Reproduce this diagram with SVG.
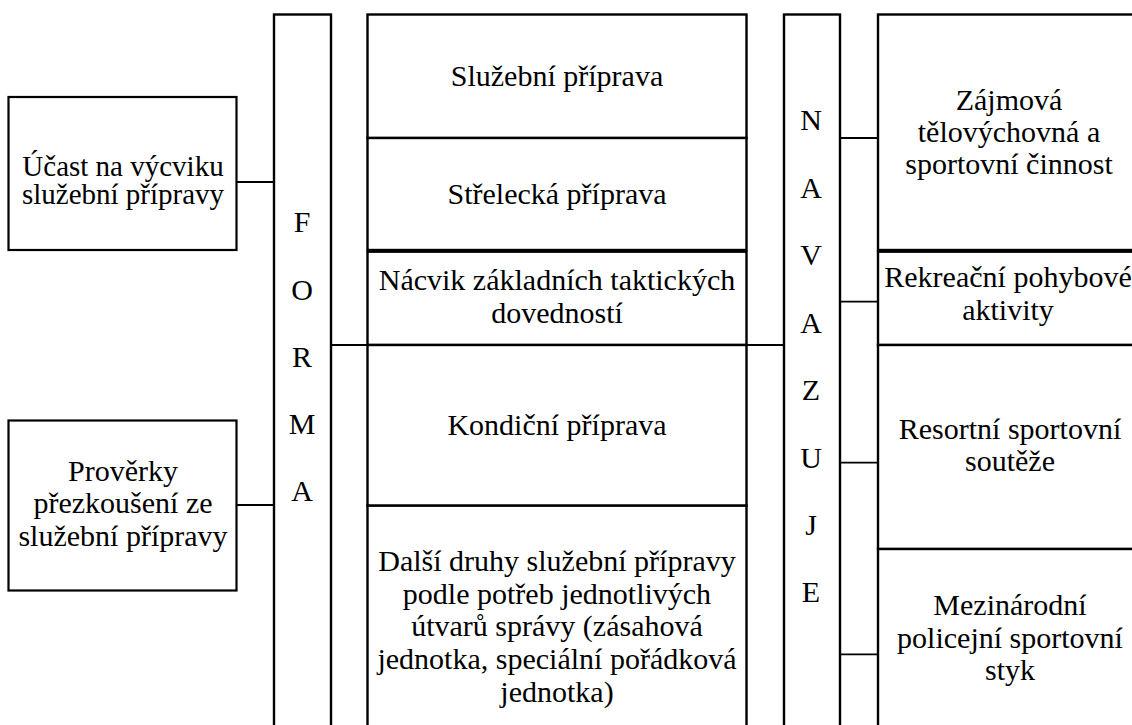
<svg xmlns="http://www.w3.org/2000/svg" width="1132" height="725" viewBox="0 0 1132 725" font-family="Liberation Serif, Tinos, DejaVu Serif, Noto Serif, Times New Roman, serif">
<style>
text{font-size:30px;fill:#000;text-anchor:middle}
.box{fill:#fff;stroke:#000;stroke-width:2.2}
.col{fill:#fff;stroke:#000;stroke-width:2.4}
.conn line{stroke:#000;stroke-width:1.8}
</style>
<rect width="1132" height="725" fill="#fff"/>
<g id="forma">
<rect class="col" x="274" y="14.5" width="57" height="730"/>
<text x="302" y="232">F</text>
<text x="302" y="300">O</text>
<text x="302" y="367">R</text>
<text x="302" y="434">M</text>
<text x="302" y="501">A</text>
</g>
<g id="navazuje">
<rect class="col" x="784" y="14.5" width="56" height="730"/>
<text x="811" y="130">N</text>
<text x="811" y="198">A</text>
<text x="811" y="265">V</text>
<text x="811" y="333">A</text>
<text x="811" y="400">Z</text>
<text x="811" y="468">U</text>
<text x="811" y="535">J</text>
<text x="811" y="602">E</text>
</g>
<g id="ucast">
<rect class="box" x="8.5" y="97" width="228" height="153"/>
<text x="123" y="175.5" style="font-size:29px">Účast na výcviku</text>
<text x="123" y="203.5" style="font-size:29px">služební přípravy</text>
</g>
<g id="proverky">
<rect class="box" x="8.5" y="420.5" width="228" height="170"/>
<text x="123" y="480.5">Prověrky</text>
<text x="123" y="513">přezkoušení ze</text>
<text x="123" y="545.5">služební přípravy</text>
</g>
<g id="sluzebni">
<rect class="col" x="367.5" y="14.5" width="379" height="123.5"/>
<text x="557" y="86">Služební příprava</text>
</g>
<g id="strelecka">
<rect class="col" x="367.5" y="138" width="379" height="112"/>
<text x="557" y="204">Střelecká příprava</text>
</g>
<g id="nacvik">
<rect class="col" x="367.5" y="251.7" width="379" height="93.3"/>
<text x="557" y="290">Nácvik základních taktických</text>
<text x="557" y="323">dovedností</text>
</g>
<g id="kondicni">
<rect class="col" x="367.5" y="345" width="379" height="160.7"/>
<text x="557" y="435">Kondiční příprava</text>
</g>
<g id="dalsi">
<rect class="col" x="367.5" y="505.7" width="379" height="240"/>
<text x="557" y="571">Další druhy služební přípravy</text>
<text x="557" y="603.5">podle potřeb jednotlivých</text>
<text x="557" y="636">útvarů správy (zásahová</text>
<text x="557" y="669">jednotka, speciální pořádková</text>
<text x="557" y="702">jednotka)</text>
</g>
<g id="zajmova">
<rect class="col" x="878" y="14.5" width="270" height="235.5"/>
<text x="1009" y="110">Zájmová</text>
<text x="1009" y="142">tělovýchovná a</text>
<text x="1009" y="174">sportovní činnost</text>
</g>
<g id="rekreacni">
<rect class="col" x="878" y="251.7" width="270" height="93.3"/>
<text x="1008" y="287">Rekreační pohybové</text>
<text x="1008" y="320">aktivity</text>
</g>
<g id="resortni">
<rect class="col" x="878" y="345" width="270" height="204"/>
<text x="1010" y="439">Resortní sportovní</text>
<text x="1010" y="471">soutěže</text>
</g>
<g id="mezinarodni">
<rect class="col" x="878" y="549" width="270" height="200"/>
<text x="1010" y="615">Mezinárodní</text>
<text x="1010" y="647.5">policejní sportovní</text>
<text x="1010" y="680">styk</text>
</g>
<g id="connectors" class="conn">
<line x1="236.5" y1="182" x2="274" y2="182"/>
<line x1="236.5" y1="505" x2="274" y2="505"/>
<line x1="331" y1="345" x2="367.5" y2="345"/>
<line x1="746.5" y1="345" x2="784" y2="345"/>
<line x1="840" y1="138" x2="878" y2="138"/>
<line x1="840" y1="301.7" x2="878" y2="301.7"/>
<line x1="840" y1="462.7" x2="878" y2="462.7"/>
<line x1="840" y1="654.3" x2="878" y2="654.3"/>
</g>
</svg>
